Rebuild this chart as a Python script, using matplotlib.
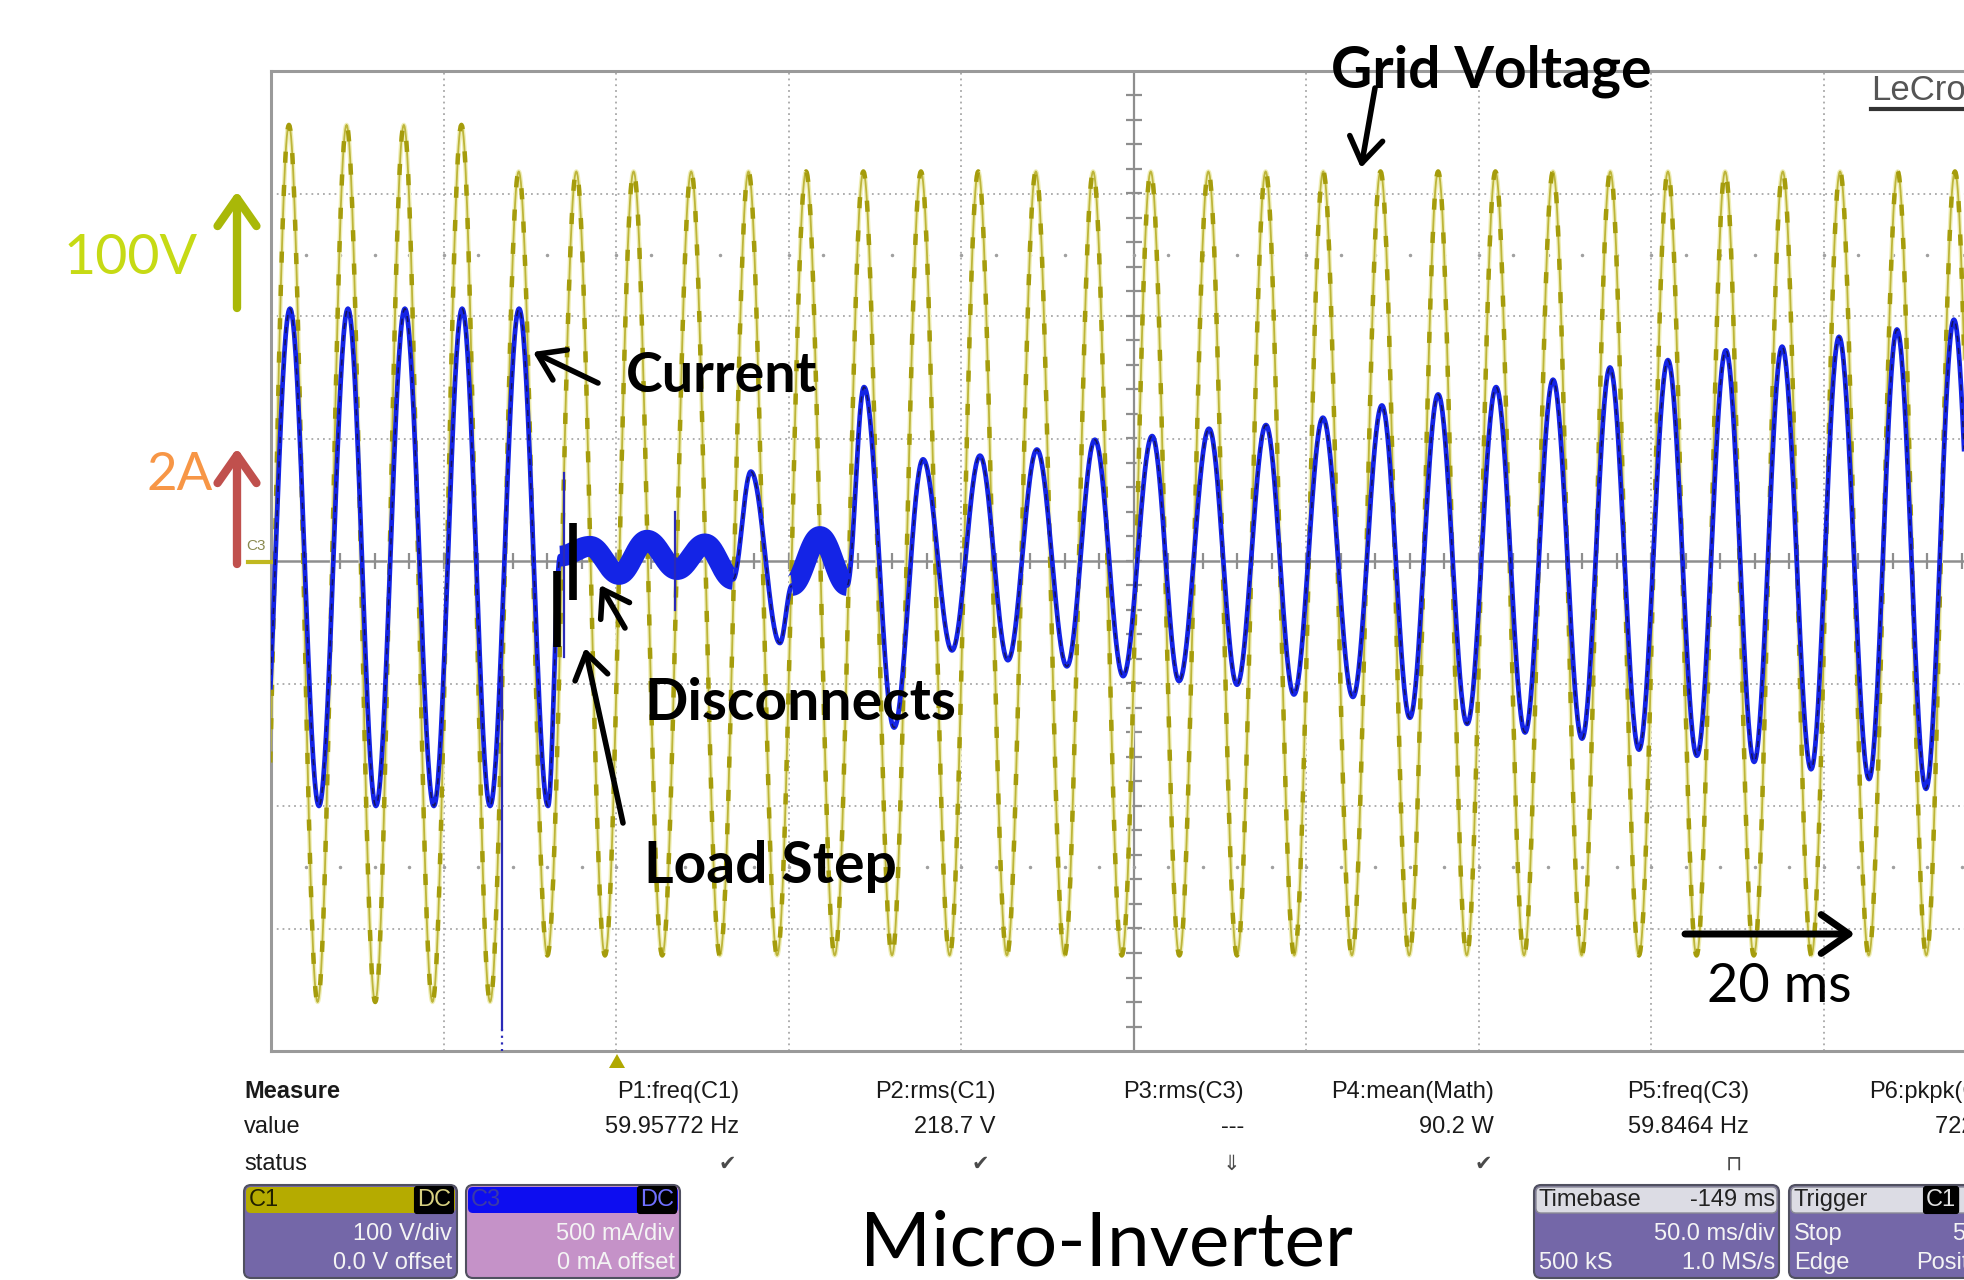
import numpy as np
import matplotlib.pyplot as plt
from matplotlib.patches import FancyBboxPatch, Polygon

# Scope settings (from the on-screen readout)
MS_PER_DIV = 50.0
V_PER_DIV = 100.0
A_PER_DIV = 0.5

# Grid voltage (C1): times of crests / troughs in ms and their values in V
volt_peak_t = [-11.4, 5.2, 21.9, 38.5, 55.2, 71.8, 88.5, 105.1, 121.8, 138.4, 155.1,
               171.7, 188.4, 205.0, 221.7, 238.3, 255.0, 271.7, 288.3, 305.0, 321.6,
               338.3, 354.9, 371.6, 388.2, 404.9, 421.5, 438.2, 454.8, 471.5, 488.1, 504.8]
volt_peak_v = [356, 356, 356, 356, 356, 318, 318, 318, 318, 318, 318,
               318, 318, 318, 318, 318, 318, 318, 318, 318, 318,
               318, 318, 318, 318, 318, 318, 318, 318, 318, 318, 318]
volt_trough_t = [-3.1, 13.5, 30.2, 46.8, 63.5, 80.1, 96.8, 113.4, 130.1, 146.7, 163.4,
                 180.0, 196.7, 213.3, 230.0, 246.6, 263.3, 280.0, 296.6, 313.3, 329.9,
                 346.6, 363.2, 379.9, 396.5, 413.2, 429.8, 446.5, 463.1, 479.8, 496.4]
volt_trough_v = [-360, -360, -360, -360, -360, -322, -322, -322, -322, -322, -322,
                 -322, -322, -322, -322, -322, -322, -322, -322, -322, -322,
                 -322, -322, -322, -322, -322, -322, -322, -322, -322, -322]

# Inverter current (C3): extrema in ms and A
cur_t = [-2.9, 5.5, 13.9, 22.3, 30.4, 38.8, 47.2, 55.4, 63.5, 71.9, 80.3, 83.8,
         92.5, 100.9, 109.0, 117.7, 125.8, 133.9, 139.1, 147.5, 151.0, 159.1, 167.0,
         171.9, 180.6, 189.0, 197.4, 205.5, 213.6, 222.0, 230.7, 238.8, 247.0,
         255.4, 263.2, 271.9, 280.0, 288.4, 296.5, 304.9, 313.6, 322.0, 330.1,
         338.3, 346.7, 355.1, 363.5, 371.6, 380.0, 388.1, 396.5, 404.9, 413.3,
         421.7, 429.9, 438.0, 446.4, 454.5, 463.2, 471.3, 479.7, 487.8, 496.2]
cur_a = [-1.0, 1.03, -1.0, 1.03, -1.0, 1.03, -1.0, 1.03, -1.0, 1.03, -1.0, 0.02,
         0.06, -0.055, 0.085, -0.035, 0.07, -0.075, 0.365, -0.335, -0.1, 0.1, -0.1,
         0.71, -0.68, 0.415, -0.365, 0.43, -0.405, 0.455, -0.43, 0.495, -0.47,
         0.51, -0.49, 0.54, -0.505, 0.555, -0.545, 0.585, -0.555, 0.635, -0.64,
         0.68, -0.665, 0.71, -0.70, 0.74, -0.725, 0.79, -0.77, 0.82, -0.795,
         0.86, -0.82, 0.875, -0.85, 0.915, -0.89, 0.945, -0.93, 0.985, -0.95]
# noisy stretches of the current after the load step (ms)
noisy_spans = [(83.8, 133.9), (151.0, 167.0)]
# single-sample glitches: time (ms), top (A), bottom (A)
glitch_t = [67.0, 84.9, 117.1]
glitch_top = [-0.445, 0.36, 0.2]
glitch_bot = [-1.91, -0.39, -0.2]
# hand-drawn step markers: time (ms), top (A), bottom (A)
marker_t = [82.9, 87.5]
marker_top = [-0.04, 0.155]
marker_bot = [-0.35, -0.16]

# measurement table
meas_names = ['P1:freq(C1)', 'P2:rms(C1)', 'P3:rms(C3)', 'P4:mean(Math)', 'P5:freq(C3)']
meas_values = ['59.95772 Hz', '218.7 V', '---', '90.2 W', '59.8464 Hz']
meas_status = ['\u2714', '\u2714', '\u21d3', '\u2714', '\u2293']

assert len(cur_t) == len(cur_a)

W, H = 1964, 1280
SCR_LEFT, SCR_TOP = 271, 71
DIV_X, DIV_Y = 172.5, 122.5


def scope_trace(t_ext, y_ext, n=40):
    """Smooth half-cosine segments between consecutive extrema."""
    ts, ys = [], []
    for k in range(len(t_ext) - 1):
        s = np.linspace(0, 1, n, endpoint=False)
        w = (1 - np.cos(np.pi * s)) / 2
        ts.append(t_ext[k] + (t_ext[k + 1] - t_ext[k]) * s)
        ys.append(y_ext[k] + (y_ext[k + 1] - y_ext[k]) * w)
    ts.append([t_ext[-1]])
    ys.append([y_ext[-1]])
    return np.concatenate(ts), np.concatenate(ys)


fig = plt.figure(figsize=(W / 100, H / 100), dpi=100)
fig.patch.set_facecolor('white')

ax = fig.add_axes([SCR_LEFT / W, 1 - (SCR_TOP + 8 * DIV_Y) / H,
                   (W - SCR_LEFT) / W, 8 * DIV_Y / H])
ax.set_xlim(0, (W - SCR_LEFT) / DIV_X * MS_PER_DIV)
ax.set_ylim(-4, 4)
ax.set_xticks([])
ax.set_yticks([])
for side in ['top', 'left', 'bottom']:
    ax.spines[side].set_color('#9a9a9a')
    ax.spines[side].set_linewidth(2.2)
ax.spines['right'].set_visible(False)

# graticule
grid_kw = dict(color='#a8a8a8', lw=1.3, ls=(0, (1, 2.2)), zorder=1)
for j in range(1, 10):
    if j == 5:
        ax.axvline(j * MS_PER_DIV, color='#8e8e8e', lw=1.6, zorder=1)
    else:
        ax.axvline(j * MS_PER_DIV, **grid_kw)
for i in range(-3, 4):
    if i == 0:
        ax.axhline(0, color='#8e8e8e', lw=1.8, zorder=1)
    else:
        ax.axhline(i, **grid_kw)
xt = np.arange(10, 500, 10)
ax.plot(xt, np.zeros_like(xt), ls='none', marker='|', ms=11, mew=1.6, color='#8e8e8e', zorder=1)
yt = np.arange(-3.8, 4.0, 0.2)
ax.plot(np.full_like(yt, 250.0), yt, ls='none', marker='_', ms=11, mew=1.6, color='#8e8e8e', zorder=1)
for yrow in (2.5, -2.5):
    ax.plot(xt, np.full_like(xt, yrow, dtype=float), ls='none', marker='.', ms=3,
            color='#a0a0a0', zorder=1)

# grid voltage
vt = np.array(volt_peak_t + volt_trough_t)
vv = np.array(volt_peak_v + volt_trough_v, dtype=float)
order = np.argsort(vt)
tv, yv = scope_trace(vt[order], vv[order] / V_PER_DIV)
ax.plot(tv, yv, color='#efeeb8', lw=3.2, zorder=2, solid_joinstyle='round')
ax.plot(tv, yv, color='#bdb53a', lw=1.3, zorder=3)
ax.plot(tv, yv, color='#a59c0c', lw=3.2, ls=(0, (2.5, 5)), zorder=3)

# current
tc, yc = scope_trace(cur_t, np.array(cur_a) / A_PER_DIV)
ax.plot(tc, yc, color='#1424e6', lw=3.4, zorder=4, solid_joinstyle='round')
yc_dark = yc.copy()
for t0, t1 in noisy_spans:
    m = (tc >= t0) & (tc <= t1)
    ax.plot(tc[m], yc[m], color='#1424e6', lw=15, zorder=4, solid_capstyle='butt')
    yc_dark[m] = np.nan
ax.plot(tc, yc_dark, color='#14145e', lw=1.1, ls=(0, (4, 4)), zorder=5)
for t, top, bot in zip(glitch_t, glitch_top, glitch_bot):
    ax.plot([t, t], [top / A_PER_DIV, bot / A_PER_DIV], color='#2a2ab8', lw=1.6, zorder=5)
ax.plot([glitch_t[0]] * 2, [glitch_bot[0] / A_PER_DIV, -4], color='#2a2ab8', lw=1.6,
        ls=(0, (1, 2)), zorder=5)
for t, top, bot in zip(marker_t, marker_top, marker_bot):
    ax.plot([t, t], [top / A_PER_DIV, bot / A_PER_DIV], color='black', lw=5.5,
            solid_capstyle='butt', zorder=6)

# overlay in pixel coordinates for labels and the scope UI
ov = fig.add_axes([0, 0, 1, 1])
ov.set_xlim(0, W)
ov.set_ylim(H, 0)
ov.axis('off')

LBL = 'Lato'
UI = ['Liberation Sans Narrow', 'Liberation Sans']


def arrow(tail, tip, color='black', lw=4, hl=0.45, hw=0.3, ms=40):
    ov.annotate('', xy=tip, xytext=tail,
                arrowprops=dict(arrowstyle=f'->,head_length={hl},head_width={hw}',
                                color=color, lw=lw, mutation_scale=ms,
                                shrinkA=0, shrinkB=0))


ov.text(1331, 87, 'Grid Voltage', family=LBL, weight='bold', fontsize=41, color='black')
arrow((1375, 88), (1361, 168))
ov.text(626, 392, 'Current', family=LBL, weight='bold', fontsize=40, color='black')
arrow((598, 383), (533, 352))
ov.text(644, 720, 'Disconnects', family=LBL, weight='bold', fontsize=41, color='black')
arrow((625, 628), (600, 585))
ov.text(644, 883, 'Load Step', family=LBL, weight='bold', fontsize=41, color='black')
arrow((623, 823), (585, 648))
ov.text(1707, 1002, '20 ms', family=LBL, fontsize=39, color='black')
arrow((1685, 934), (1855, 934), lw=5, hl=0.5, hw=0.35)

ov.text(64, 274, '100V', family=LBL, fontsize=40, color='#c6da14')
arrow((237, 308), (237, 191), color='#a9b808', lw=6, hl=0.5, hw=0.35)
ov.text(147, 490, '2A', family=LBL, fontsize=38, color='#f79646')
arrow((237, 564), (237, 448), color='#c0504d', lw=6, hl=0.5, hw=0.35)

ov.text(1106, 1266, 'Micro-Inverter', family=LBL, fontsize=55, ha='center', color='black')

# channel marker and trigger marker
ov.plot([248, 271], [562, 562], color='#c0b820', lw=3)
ov.text(256, 546, 'C3', family=UI, fontsize=11, color='#8a8a50', ha='center', va='center')
ov.add_patch(Polygon([(609, 1068), (625, 1068), (617, 1054)], closed=True,
                     fc='#b0a800', ec='none'))

# LeCroy logo
ov.text(1871, 100, 'LeCroy', family='Liberation Sans', fontsize=25, color='#555555')
ov.plot([1871, 1964], [109, 109], color='#333333', lw=3)

# measurement table
txt = dict(family=UI, fontsize=17, color='#1a1a1a', va='center')
ov.text(244, 1092, 'Measure', weight='bold', **txt)
ov.text(244, 1127, 'value', **txt)
ov.text(244, 1164, 'status', **txt)
col_right = [739, 996, 1244, 1494, 1749]
stat_x = [727, 980, 1231, 1483, 1734]
for name, val, st, xr, xs in zip(meas_names, meas_values, meas_status, col_right, stat_x):
    ov.text(xr, 1092, name, ha='right', **txt)
    ov.text(xr, 1127, val, ha='right', **txt)
    ov.text(xs, 1164, st, ha='center', va='center', family='DejaVu Sans', fontsize=15,
            color='#4a4a4a')
ov.text(1869, 1092, 'P6:pkpk(C1)', **txt)
ov.text(1935, 1127, '722 V', **txt)


def panel(x, w, body, header, header_ec='none'):
    ov.add_patch(FancyBboxPatch((x, 1185), w, 93, boxstyle='round,pad=0,rounding_size=7',
                                fc=body, ec='#505060', lw=1.5))
    ov.add_patch(FancyBboxPatch((x + 2, 1187), w - 4, 26, boxstyle='round,pad=0,rounding_size=5',
                                fc=header, ec=header_ec, lw=1))


ui = dict(family=UI, fontsize=17, va='center')
panel(244, 213, '#7467a8', '#b5ab00')
ov.text(249, 1200, 'C1', color='#202000', **ui)
ov.text(451, 1200, 'DC', ha='right', color='#d8d080',
        bbox=dict(boxstyle='round,pad=0.1', fc='black', ec='black'), **ui)
ov.text(452, 1234, '100 V/div', ha='right', color='#f4f4f4', **ui)
ov.text(452, 1263, '0.0 V offset', ha='right', color='#f4f4f4', **ui)

panel(466, 214, '#c592c8', '#0d0df0')
ov.text(471, 1200, 'C3', color='#3a3aa8', **ui)
ov.text(674, 1200, 'DC', ha='right', color='#7070ff',
        bbox=dict(boxstyle='round,pad=0.1', fc='black', ec='black'), **ui)
ov.text(675, 1234, '500 mA/div', ha='right', color='#f4f4f4', **ui)
ov.text(675, 1263, '0 mA offset', ha='right', color='#f4f4f4', **ui)

panel(1534, 245, '#7467a8', '#dcdce4', header_ec='#8a8a95')
ov.text(1539, 1200, 'Timebase', color='#222222', **ui)
ov.text(1775, 1200, '-149 ms', ha='right', color='#222222', **ui)
ov.text(1775, 1234, '50.0 ms/div', ha='right', color='#f4f4f4', **ui)
ov.text(1539, 1263, '500 kS', color='#f4f4f4', **ui)
ov.text(1775, 1263, '1.0 MS/s', ha='right', color='#f4f4f4', **ui)

panel(1789, 230, '#7467a8', '#dcdce4', header_ec='#8a8a95')
ov.text(1794, 1200, 'Trigger', color='#222222', **ui)
ov.text(1926, 1200, 'C1', color='#e0e0e0',
        bbox=dict(boxstyle='round,pad=0.1', fc='black', ec='black'), **ui)
ov.text(1794, 1234, 'Stop', color='#f4f4f4', **ui)
ov.text(1953, 1234, '5 V', color='#f4f4f4', **ui)
ov.text(1794, 1263, 'Edge', color='#f4f4f4', **ui)
ov.text(1916, 1263, 'Positive', color='#f4f4f4', **ui)

fig.savefig('out.png', dpi=100)
